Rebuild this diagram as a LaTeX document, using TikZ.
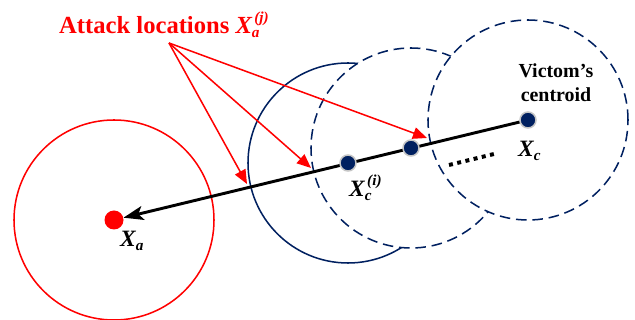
\documentclass[tikz,border=0pt]{standalone}
\usepackage{fontspec}
\setmainfont{Liberation Serif}
\usetikzlibrary{arrows.meta,positioning}
\definecolor{navy}{RGB}{0,32,96}
% stacked sub- and superscript
\newcommand{\subsup}[3]{\rlap{\raisebox{-3pt}{\fontsize{13}{13}\selectfont #1}}\kern2pt\raisebox{#3}{\fontsize{13}{13}\selectfont #2}}
\newcommand{\subonly}[1]{\raisebox{-3pt}{\fontsize{13}{13}\selectfont #1}}

\begin{document}
\begin{tikzpicture}
    [x=0.03cm, y=-0.03cm,
    zone/.style={line width=1.3pt, fill=white},
    movedzone/.style={zone, dash pattern=on 9pt off 5pt},
    centroid/.style={circle, inner sep=0pt, minimum size=0.48cm, fill=navy, draw=gray!45, line width=1.3pt},
    attacker/.style={circle, inner sep=0pt, minimum size=0.57cm, fill=red},
    pointer/.style={red, line width=1.3pt, -{Triangle[length=12pt, width=10pt]}},
    lbl/.style={font=\fontsize{20}{24}\selectfont\bfseries\itshape, inner sep=0pt, anchor=base west}]
        \useasboundingbox (0,0) rectangle (635,320);
        %% Centres
        \coordinate (ca) at (114,220);
        \coordinate (c1) at (348,163);
        \coordinate (c2) at (411,148);
        \coordinate (c0) at (528,120);

        %% Zones
        \draw[zone, draw=red] (ca) circle (3cm);
        \draw[zone, draw=navy] (c1) circle (3cm);
        \draw[movedzone, draw=navy] (c2) circle (3cm);
        \draw[movedzone, draw=navy] (c0) circle (3cm);

        %% Labels
        \node[font=\fontsize{21}{25}\selectfont\bfseries, text=red, inner sep=0pt, anchor=base west] (attack) at (59,34)
            {Attack locations \textit{X\subsup{a}{(j)}{10pt}}};
        \node[font=\fontsize{17}{20.5}\selectfont\bfseries, align=center, inner sep=0pt, anchor=north] (victim) at (556,63)
            {Victom's\\centroid};
        \node[lbl] (xalabel) at (120,247) {X\subonly{a}};
        \node[lbl] (xclabel) at (518,157) {X\subonly{c}};
        \node[lbl] (xcilabel) at (349,197) {X\subsup{c}{(i)}{10pt}};

        %% Pointers
        \coordinate (src) at (169,43);
        \coordinate (t1) at (247,184);
        \coordinate (t2) at (311,168);
        \coordinate (t3) at (427,138);
        \draw[pointer] (src) -- (t1);
        \draw[pointer] (src) -- (t2);
        \draw[pointer] (src) -- (t3);

        %% Path of the centroid
        \node[attacker] (xa) at (ca) {};
        \node[centroid] (xc) at (c0) {};
        \draw[line width=2.5pt, -{Stealth[length=17pt, width=12pt, inset=4pt]}] (xc) -- (xa);
        \node[centroid] (xc1) at (c1) {};
        \node[centroid] (xc2) at (c2) {};

        \coordinate (d1) at (449,165);
        \coordinate (d2) at (494,154);
        \draw[line width=3.4pt, dash pattern=on 3.4pt off 3.8pt] (d1) -- (d2);
    \end{tikzpicture}
\end{document}
